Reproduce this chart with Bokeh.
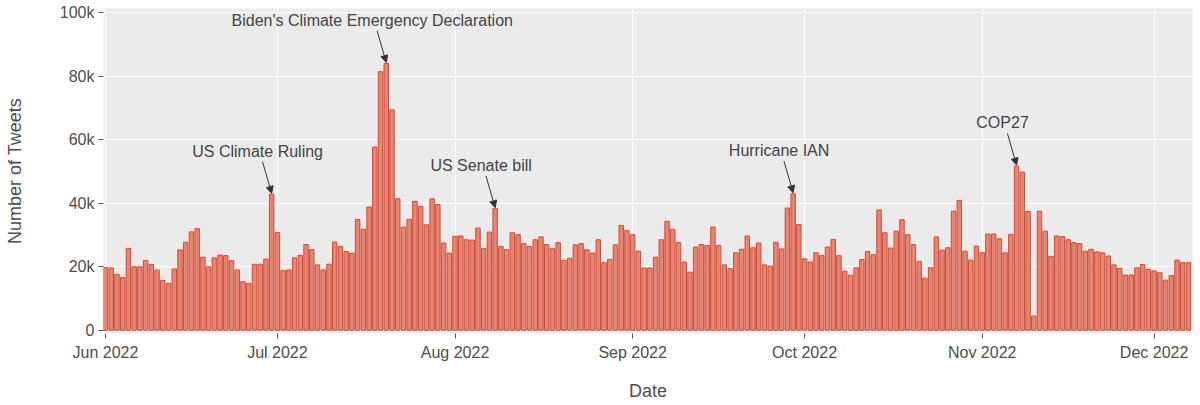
import pandas as pd
from bokeh.plotting import figure
from bokeh.models import (ColumnDataSource, Range1d, FixedTicker,
                          DatetimeTickFormatter, Arrow, NormalHead)
from bokeh.embed import file_html
from bokeh.resources import INLINE
from bokeh.core.properties import value

# ---------------- data ----------------
start_date = "2022-06-01"
# daily tweet counts in thousands, Jun 1 .. Dec 7 2022
jun_k = [19.8, 19.6, 17.6, 16.6, 25.8, 20.0, 20.0, 22.0, 20.7, 19.0,
         15.7, 14.8, 19.3, 25.3, 27.7, 31.0, 32.0, 23.0, 20.0, 22.8,
         23.7, 23.5, 21.9, 19.0, 15.3, 14.7, 20.8, 20.8, 22.4, 42.8]
jul_k = [30.8, 18.8, 19.0, 22.8, 23.6, 27.0, 25.4, 20.6, 19.0, 20.8,
         27.8, 26.4, 24.8, 24.3, 34.9, 31.8, 38.8, 57.7, 81.4, 84.0,
         69.4, 41.4, 32.5, 34.9, 40.6, 39.0, 33.2, 41.4, 39.6, 27.5, 24.3]
aug_k = [29.6, 29.7, 28.5, 28.4, 32.2, 25.7, 30.9, 38.3, 26.4, 25.4,
         30.7, 30.1, 27.3, 26.4, 28.5, 29.4, 27.0, 25.7, 27.6, 22.0,
         22.7, 26.9, 27.3, 25.4, 24.3, 28.5, 21.3, 22.3, 26.9, 33.0, 31.4]
sep_k = [30.1, 24.9, 19.6, 19.6, 23.0, 28.5, 34.3, 31.8, 27.6, 21.5,
         18.3, 26.2, 27.0, 26.7, 32.5, 26.7, 20.6, 19.4, 24.4, 25.5,
         29.7, 26.0, 27.5, 20.6, 20.2, 27.7, 25.6, 38.5, 43.0, 33.3]
oct_k = [22.5, 21.5, 24.4, 23.5, 26.2, 28.6, 23.5, 18.6, 17.3, 19.7,
         22.3, 24.8, 23.8, 37.9, 30.7, 25.9, 31.2, 34.8, 30.1, 27.0,
         21.7, 16.4, 19.7, 29.4, 25.2, 26.0, 37.5, 40.9, 24.9, 22.1, 26.5]
nov_k = [24.4, 30.3, 30.3, 28.8, 24.4, 30.2, 51.7, 49.8, 37.4, 4.5,
         37.5, 31.2, 23.3, 29.7, 29.5, 28.5, 27.6, 27.3, 24.9, 25.5,
         24.7, 24.4, 23.4, 20.6, 19.5, 17.4, 17.4, 19.7, 20.7, 19.2]
dec_k = [18.7, 18.1, 15.8, 17.2, 22.1, 21.3, 21.3]

tweets_k = jun_k + jul_k + aug_k + sep_k + oct_k + nov_k + dec_k
tweets = [v * 1000 for v in tweets_k]
dates = pd.date_range(start_date, periods=len(tweets), freq="D")

y_ticks = [0, 20000, 40000, 60000, 80000, 100000]
y_tick_labels = ["0", "20k", "40k", "60k", "80k", "100k"]
x_tick_dates = ["2022-06-01", "2022-07-01", "2022-08-01", "2022-09-01",
                "2022-10-01", "2022-11-01", "2022-12-01"]

event_dates = ["2022-06-30", "2022-07-20", "2022-08-08", "2022-09-29", "2022-11-07"]
event_labels = ["US Climate Ruling", "Biden's Climate Emergency Declaration",
                "US Senate bill", "Hurricane IAN", "COP27"]

# ---------------- helpers ----------------
DAY = 86400000.0
def to_ms(d):
    return pd.Timestamp(d).value / 1e6

date_ms = [to_ms(d) for d in dates]
x_tick_ms = [to_ms(d) for d in x_tick_dates]
lookup = dict(zip([pd.Timestamp(d) for d in dates], tweets))
ev_ms = [to_ms(d) for d in event_dates]
ev_val = [lookup[pd.Timestamp(d)] for d in event_dates]

FONT = "Liberation Sans"
TXT = "#4D4D4D"

p = figure(width=1198, height=403, x_axis_type="datetime",
           output_backend="svg", toolbar_location=None,
           x_range=Range1d(date_ms[0] - 0.35 * DAY, date_ms[-1] + 0.7 * DAY),
           y_range=Range1d(-1000, 101300),
           min_border_left=103, min_border_right=6, min_border_top=8,
           min_border_bottom=70)

p.background_fill_color = "#EBEBEB"
p.border_fill_color = "white"
p.outline_line_color = None

src = ColumnDataSource(dict(x=dates, top=tweets))
p.vbar(x="x", top="top", bottom=0, width=0.78 * DAY, source=src,
       fill_color="#EC8270", line_color="#C4513F", line_width=1)

# annotations
arr_src = ColumnDataSource(dict(
    xs=[m - 1.6 * DAY for m in ev_ms], ys=[v + 10300 for v in ev_val],
    xe=ev_ms, ye=[v + 300 for v in ev_val]))
p.add_layout(Arrow(end=NormalHead(size=7, fill_color="#333", line_color="#333"),
                   x_start="xs", y_start="ys", x_end="xe", y_end="ye",
                   source=arr_src, line_color="#333", line_width=1))
txt_src = ColumnDataSource(dict(tx=[m - 2.45 * DAY for m in ev_ms],
                                ty=[v + 13600 for v in ev_val],
                                label=event_labels))
p.text(x="tx", y="ty", text="label", source=txt_src, text_align="center",
       text_baseline="middle", text_font=value(FONT), text_font_size="16px",
       text_color="#444444")

# axes
p.xaxis.ticker = FixedTicker(ticks=x_tick_ms)
p.xaxis.formatter = DatetimeTickFormatter(days="%b %Y", months="%b %Y",
                                          years="%b %Y", hours="%b %Y")
p.yaxis.ticker = FixedTicker(ticks=y_ticks)
p.yaxis.major_label_overrides = dict(zip(y_ticks, y_tick_labels))
p.xgrid.ticker = FixedTicker(ticks=x_tick_ms)
p.ygrid.ticker = FixedTicker(ticks=y_ticks)
for g in (p.xgrid, p.ygrid):
    g.grid_line_color = "white"
    g.grid_line_width = 1

p.xaxis.axis_label = "Date"
p.yaxis.axis_label = "Number of Tweets"
for ax in (p.xaxis, p.yaxis):
    ax.axis_line_color = None
    ax.major_tick_line_color = "#555555"
    ax.major_tick_out = 5
    ax.major_tick_in = 0
    ax.minor_tick_line_color = None
    ax.major_label_text_font = FONT
    ax.major_label_text_font_size = "16px"
    ax.major_label_text_color = TXT
    ax.axis_label_text_font = FONT
    ax.axis_label_text_font_size = "18px"
    ax.axis_label_text_font_style = "normal"
    ax.axis_label_text_color = TXT
p.xaxis.major_label_standoff = 5
p.xaxis.axis_label_standoff = 17
p.yaxis.major_label_standoff = 4
p.yaxis.axis_label_standoff = 32

open("out.html", "w").write(file_html(p, INLINE))
